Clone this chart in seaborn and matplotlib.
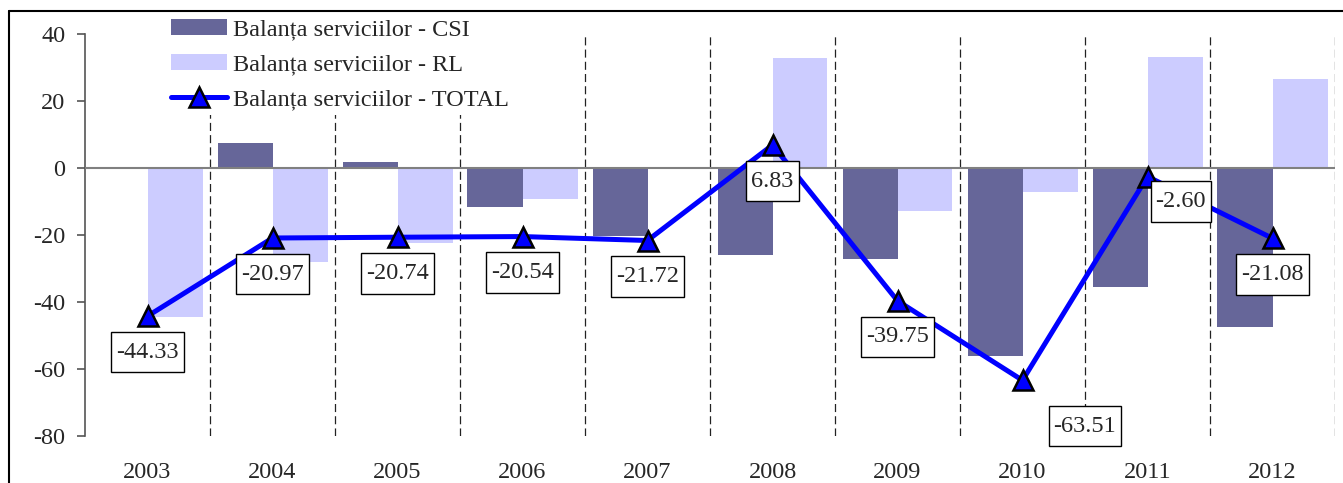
import matplotlib
matplotlib.use("Agg")
import matplotlib.pyplot as plt
import seaborn as sns
import pandas as pd
from matplotlib.patches import Patch
from matplotlib.lines import Line2D
from matplotlib.path import Path

# ---- data ----
years = ["2003", "2004", "2005", "2006", "2007", "2008", "2009", "2010", "2011", "2012"]
csi = [0.2, 7.4, 1.8, -11.7, -20.3, -26.0, -27.2, -56.2, -35.7, -47.5]
rl = [-44.5, -28.1, -22.4, -9.3, -0.3, 32.9, -12.8, -7.2, 33.2, 26.5]
total = [-44.33, -20.97, -20.74, -20.54, -21.72, 6.83, -39.75, -63.51, -2.60, -21.08]
series_names = ["Balanța serviciilor - CSI", "Balanța serviciilor - RL", "Balanța serviciilor - TOTAL"]

# ---- style ----
sns.set_style("white")
plt.rcParams["font.family"] = ["Liberation Serif", "DejaVu Serif"]
plt.rcParams["lines.scale_dashes"] = False
plt.rcParams["axes.unicode_minus"] = False
FS = 17.5
C_CSI = "#666699"
C_RL = "#CCCCFF"
C_TOT = "#0000FF"

W, H = 1343, 483
fig = plt.figure(figsize=(W / 100, H / 100), dpi=100)
ax = fig.add_axes([85 / W, 1 - 435.5 / H, (1335 - 85) / W, (435.5 - 34) / H])

df = pd.DataFrame({
    "year": years * 2,
    "value": csi + rl,
    "series": [series_names[0]] * len(years) + [series_names[1]] * len(years),
})
sns.barplot(data=df, x="year", y="value", hue="series", order=years,
            hue_order=series_names[:2], palette=[C_CSI, C_RL], saturation=1,
            width=0.88, dodge=True, errorbar=None, linewidth=0, ax=ax, legend=False,
            zorder=2)

tot_df = pd.DataFrame({"year": years, "total": total})
sns.lineplot(data=tot_df, x="year", y="total", sort=False, color=C_TOT, lw=3.6,
             marker="^", markersize=14, markerfacecolor=C_TOT, markeredgecolor="black",
             markeredgewidth=1.8, ax=ax, zorder=4, legend=False)

# zero line and dividers
ax.axhline(0, color="#808080", lw=1.5, zorder=3)
ax.vlines([i + 0.5 for i in range(len(years))], -80, 40, colors="#222222",
          linestyles=(0, (5.8, 3.0)), lw=0.9, zorder=1)


def label_box(x0, y0, width, height, mutation_size):
    px = 0.2 * mutation_size
    py = 0.4 * mutation_size
    x0, y0 = x0 - px, y0 - py
    x1, y1 = x0 + width + 2 * px, y0 + height + 2 * py
    return Path([(x0, y0), (x1, y0), (x1, y1), (x0, y1), (x0, y0)],
                [Path.MOVETO, Path.LINETO, Path.LINETO, Path.LINETO, Path.CLOSEPOLY])


# data labels
offsets = {"2010": (45, -33), "2011": (24, -18)}
for i, (y, v) in enumerate(zip(years, total)):
    dx, dy = offsets.get(y, (0, -26))
    ax.annotate(f"{v:.2f}", xy=(i, v), xytext=(dx, dy), textcoords="offset points",
                ha="center", va="center", fontsize=FS, zorder=6, annotation_clip=False,
                bbox=dict(boxstyle=label_box, fc="white", ec="black", lw=1))

ax.set_xlim(-0.5, len(years) - 0.5)
ax.set_ylim(-80, 40)
ax.set_yticks(range(-80, 41, 20))
ax.set_xlabel("")
ax.set_ylabel("")
for s in ["top", "right", "bottom"]:
    ax.spines[s].set_visible(False)
ax.spines["left"].set_color("#555555")
ax.spines["left"].set_linewidth(1.2)
ax.tick_params(axis="y", direction="out", length=6, width=1.2, color="#555555",
               labelsize=FS, pad=8, left=True)
ax.tick_params(axis="x", length=0, labelsize=FS, pad=19)

# legend
handles = [Patch(fc=C_CSI, ec="none"), Patch(fc=C_RL, ec="none"),
           Line2D([], [], color=C_TOT, lw=3.6, marker="^", markersize=14,
                  markerfacecolor=C_TOT, markeredgecolor="black", markeredgewidth=1.8)]
leg = ax.legend(handles, series_names, loc="upper left",
                bbox_to_anchor=((171 - 5) / W, 1 - 14 / H), bbox_transform=fig.transFigure,
                borderaxespad=0, borderpad=0.2, frameon=True, fancybox=False,
                framealpha=1, facecolor="white", edgecolor="none", fontsize=FS,
                handlelength=2.3, handleheight=0.65, handletextpad=0.25, labelspacing=0.55)
leg.set_zorder(5)

# outer frame
fig.add_artist(Line2D([9 / W, 9 / W], [0, 1 - 11 / H], transform=fig.transFigure,
                      color="black", lw=1.5))
fig.add_artist(Line2D([9 / W, 1], [1 - 11 / H, 1 - 11 / H], transform=fig.transFigure,
                      color="black", lw=1.5))

fig.savefig("out.png", dpi=100)
